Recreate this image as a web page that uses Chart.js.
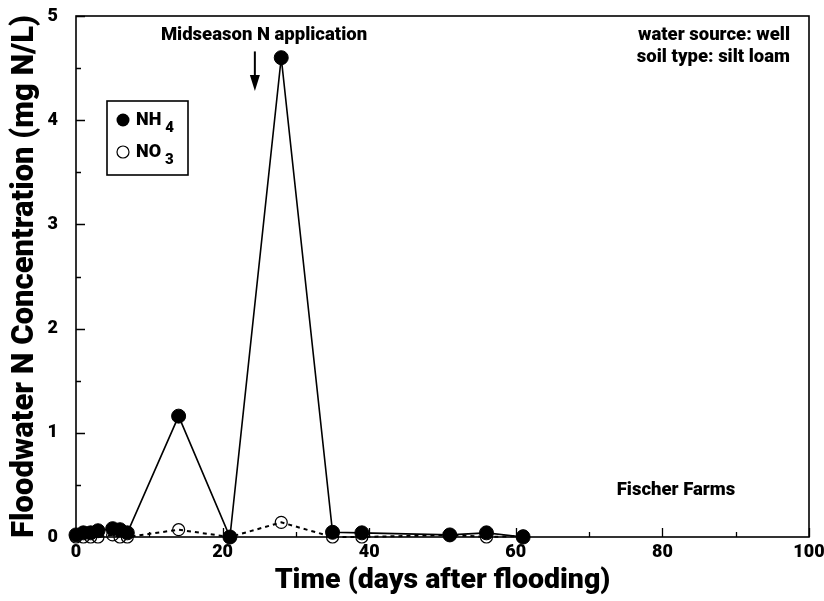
<!DOCTYPE html>
<html>
<head>
<meta charset="utf-8">
<script src="https://cdn.jsdelivr.net/npm/chart.js@4"></script>
<style>
  html, body { margin: 0; padding: 0; background: #fff; }
  canvas { display: block; }
</style>
</head>
<body>
<canvas id="c" width="824" height="601"></canvas>
<script>
// Sampling days after flooding
const days = [0, 1, 2, 3, 5, 6, 7, 14, 21, 28, 35, 39, 51, 56, 61];
// Floodwater ammonium (mg N/L)
const nh4 = [0.02, 0.04, 0.04, 0.06, 0.08, 0.07, 0.04, 1.16, 0.00, 4.60, 0.045, 0.04, 0.02, 0.04, 0.00];
// Floodwater nitrate (mg N/L)
const no3 = [0.00, 0.00, 0.00, 0.00, 0.02, 0.00, 0.00, 0.07, 0.00, 0.14, 0.00, 0.00, 0.02, 0.00, 0.01];
const xTickValues = [0, 20, 40, 60, 80, 100];
const yTickValues = [0, 1, 2, 3, 4, 5];
const applicationDay = 24.4;

const FONT = "Roboto, 'Liberation Sans', Arial, sans-serif";
const W = 900;

const pts = (xs, ys) => xs.map((x, i) => ({ x: x, y: ys[i] }));

// Frame around the plot plus inward-pointing major/minor ticks
const framePlugin = {
  id: 'frame',
  afterDraw(chart) {
    const { ctx, chartArea: a, scales: { x, y } } = chart;
    ctx.save();
    ctx.strokeStyle = '#000';
    ctx.lineWidth = 1.6;
    ctx.strokeRect(a.left, a.top, a.right - a.left, a.bottom - a.top);
    ctx.lineWidth = 1.3;
    ctx.beginPath();
    for (let v = 0; v <= 5.0001; v += 0.5) {
      const py = Math.round(y.getPixelForValue(v)) + 0.5;
      const len = Math.abs(v - Math.round(v)) < 1e-6 ? 9 : 5;
      ctx.moveTo(a.left, py); ctx.lineTo(a.left + len, py);
    }
    for (let v = 0; v <= 100.0001; v += 10) {
      const px = Math.round(x.getPixelForValue(v)) + 0.5;
      const len = v % 20 === 0 ? 9 : 5;
      ctx.moveTo(px, a.bottom); ctx.lineTo(px, a.bottom - len);
    }
    ctx.stroke();
    ctx.restore();
  }
};

// Text notes, the application arrow and the legend box
const notesPlugin = {
  id: 'notes',
  afterDraw(chart) {
    const { ctx, chartArea: a, scales: { x, y } } = chart;
    ctx.save();
    ctx.fillStyle = '#000';
    ctx.strokeStyle = '#000';
    ctx.textBaseline = 'middle';

    ctx.font = `${W} 18.5px ${FONT}`;
    ctx.textAlign = 'center';
    ctx.fillText('Midseason N application', 264, 35);

    ctx.textAlign = 'right';
    ctx.fillText('water source: well', a.right - 19, 35);
    ctx.fillText('soil type: silt loam', a.right - 19, 57);

    ctx.textAlign = 'center';
    ctx.fillText('Fischer Farms', 676, 490);

    // arrow pointing down at the midseason application
    const ax = x.getPixelForValue(applicationDay);
    const yTop = y.getPixelForValue(4.66);
    const yTip = y.getPixelForValue(4.28);
    ctx.lineWidth = 2;
    ctx.beginPath();
    ctx.moveTo(ax, yTop); ctx.lineTo(ax, yTip - 14);
    ctx.stroke();
    ctx.beginPath();
    ctx.moveTo(ax - 5, yTip - 16);
    ctx.lineTo(ax + 5, yTip - 16);
    ctx.lineTo(ax, yTip);
    ctx.closePath();
    ctx.fill();

    // legend
    const lx = 107, ly = 101, lw = 81, lh = 74;
    ctx.lineWidth = 1.6;
    ctx.strokeRect(lx, ly, lw, lh);
    ctx.beginPath();
    ctx.arc(lx + 16, ly + 19, 6.5, 0, Math.PI * 2);
    ctx.fill();
    ctx.lineWidth = 1.2;
    ctx.beginPath();
    ctx.arc(lx + 16, ly + 51, 6, 0, Math.PI * 2);
    ctx.stroke();

    ctx.textAlign = 'left';
    ctx.font = `${W} 18px ${FONT}`;
    ctx.fillText('NH', lx + 29, ly + 19);
    ctx.fillText('NO', lx + 29, ly + 51);
    const w1 = ctx.measureText('NH').width;
    const w2 = ctx.measureText('NO').width;
    ctx.font = `${W} 15px ${FONT}`;
    ctx.fillText('4', lx + 33 + w1, ly + 27);
    ctx.fillText('3', lx + 33 + w2, ly + 59);
    ctx.restore();
  }
};

new Chart(document.getElementById('c'), {
  type: 'scatter',
  data: {
    datasets: [
      {
        label: 'NH4',
        data: pts(days, nh4),
        showLine: true,
        borderColor: '#000',
        borderWidth: 1.6,
        backgroundColor: '#000',
        pointBackgroundColor: '#000',
        pointBorderColor: '#000',
        pointRadius: 7,
        pointBorderWidth: 1,
        clip: false,
        order: 0
      },
      {
        label: 'NO3',
        data: pts(days, no3),
        showLine: true,
        borderColor: '#000',
        borderWidth: 2,
        borderDash: [4, 4],
        backgroundColor: 'rgba(0,0,0,0)',
        pointBackgroundColor: 'rgba(0,0,0,0)',
        pointBorderColor: '#000',
        pointRadius: 6,
        pointBorderWidth: 1.2,
        clip: false,
        order: 1
      }
    ]
  },
  options: {
    responsive: false,
    animation: false,
    events: [],
    layout: { padding: { top: 16, right: 15, left: 0, bottom: 0 } },
    plugins: { legend: { display: false }, tooltip: { enabled: false } },
    scales: {
      x: {
        type: 'linear',
        min: 0, max: 100,
        afterBuildTicks(s) { s.ticks = xTickValues.map(v => ({ value: v })); },
        afterFit(s) { s.height = 64; s.paddingLeft = 0; s.paddingRight = 0; },
        grid: { display: false, drawTicks: false },
        border: { display: false },
        ticks: {
          color: '#000',
          padding: 5,
          maxRotation: 0,
          font: { family: FONT, size: 18, weight: W }
        },
        title: {
          display: true,
          text: 'Time (days after flooding)',
          color: '#000',
          padding: { top: 0, bottom: 3 },
          font: { family: FONT, size: 28.5, weight: W }
        }
      },
      y: {
        type: 'linear',
        min: 0, max: 5,
        afterBuildTicks(s) { s.ticks = yTickValues.map(v => ({ value: v })); },
        afterFit(s) { s.width = 76; s.paddingTop = 0; s.paddingBottom = 0; },
        grid: { display: false, drawTicks: false },
        border: { display: false },
        ticks: {
          color: '#000',
          padding: 18,
          font: { family: FONT, size: 18, weight: W }
        },
        title: {
          display: true,
          text: 'Floodwater N Concentration (mg N/L)',
          color: '#000',
          padding: { top: 7, bottom: 0 },
          font: { family: FONT, size: 31, weight: W }
        }
      }
    }
  },
  plugins: [framePlugin, notesPlugin]
});
</script>
</body>
</html>
